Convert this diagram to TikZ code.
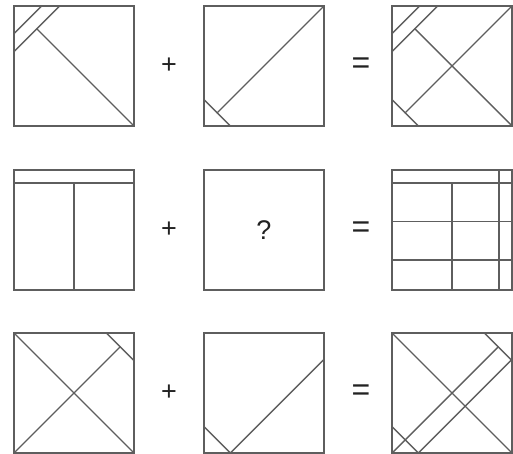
\documentclass[tikz,border=0pt]{standalone}
\usepackage{fontspec}
\setmainfont{Liberation Sans}
\definecolor{linec}{HTML}{5E5E5E}
\definecolor{txtc}{HTML}{222222}
\begin{document}
\begin{tikzpicture}[x=1pt,y=-1pt,
  frame/.style={draw=linec, line width=1.4pt},
  seg/.style={draw=linec, line width=1.4pt, line cap=round, line join=round},
  sym/.style={text=txtc, inner sep=0pt, font=\fontsize{27}{27}\selectfont},
  eqsym/.style={text=txtc, inner sep=0pt, font=\fontsize{32}{32}\selectfont}]
\useasboundingbox[fill=white] (0,0) rectangle (513,454);

% ---------- Row 1 ----------
\begin{scope}[shift={(14,6)}, x=120pt, y=-120pt]
  \draw[frame] (0,0) rectangle (1,1);
  \draw[seg] (0,.23) -- (.23,0);
  \draw[seg] (0,.38) -- (.38,0);
  \draw[seg] (.19,.19) -- (1,1);
\end{scope}
\begin{scope}[shift={(204,6)}, x=120pt, y=-120pt]
  \draw[frame] (0,0) rectangle (1,1);
  \draw[seg] (0,.78) -- (.22,1);
  \draw[seg] (.11,.89) -- (1,0);
\end{scope}
\begin{scope}[shift={(392,6)}, x=120pt, y=-120pt]
  \draw[frame] (0,0) rectangle (1,1);
  \draw[seg] (0,.23) -- (.23,0);
  \draw[seg] (0,.38) -- (.38,0);
  \draw[seg] (.19,.19) -- (1,1);
  \draw[seg] (0,.78) -- (.22,1);
  \draw[seg] (.11,.89) -- (1,0);
\end{scope}
\node[sym] (p1) at (169,66) {+};
\node[eqsym] (e1) at (361,66) {=};

% ---------- Row 2 ----------
\begin{scope}[shift={(14,170)}, x=120pt, y=-120pt]
  \draw[frame] (0,0) rectangle (1,1);
  \draw[seg] (0,.11) -- (1,.11);
  \draw[seg] (.5,.11) -- (.5,1);
\end{scope}
\begin{scope}[shift={(204,170)}, x=120pt, y=-120pt]
  \draw[frame] (0,0) rectangle (1,1);
\end{scope}
\node[sym] (q) at (264,230) {?};
\begin{scope}[shift={(392,170)}, x=120pt, y=-120pt]
  \draw[frame] (0,0) rectangle (1,1);
  \draw[seg] (0,.11) -- (1,.11);
  \draw[seg] (0,.43) -- (1,.43);
  \draw[seg] (0,.75) -- (1,.75);
  \draw[seg] (.5,.11) -- (.5,1);
  \draw[seg] (.89,0) -- (.89,1);
\end{scope}
\node[sym] (p2) at (169,230) {+};
\node[eqsym] (e2) at (361,230) {=};

% ---------- Row 3 ----------
\begin{scope}[shift={(14,333)}, x=120pt, y=-120pt]
  \draw[frame] (0,0) rectangle (1,1);
  \draw[seg] (0,0) -- (1,1);
  \draw[seg] (.77,0) -- (1,.23);
  \draw[seg] (0,1) -- (.885,.115);
\end{scope}
\begin{scope}[shift={(204,333)}, x=120pt, y=-120pt]
  \draw[frame] (0,0) rectangle (1,1);
  \draw[seg] (0,.78) -- (.22,1) -- (1,.22);
\end{scope}
\begin{scope}[shift={(392,333)}, x=120pt, y=-120pt]
  \draw[frame] (0,0) rectangle (1,1);
  \draw[seg] (0,0) -- (1,1);
  \draw[seg] (.77,0) -- (1,.23);
  \draw[seg] (0,1) -- (.885,.115);
  \draw[seg] (0,.78) -- (.22,1) -- (1,.22);
\end{scope}
\node[sym] (p3) at (169,393) {+};
\node[eqsym] (e3) at (361,393) {=};
\end{tikzpicture}
\end{document}
